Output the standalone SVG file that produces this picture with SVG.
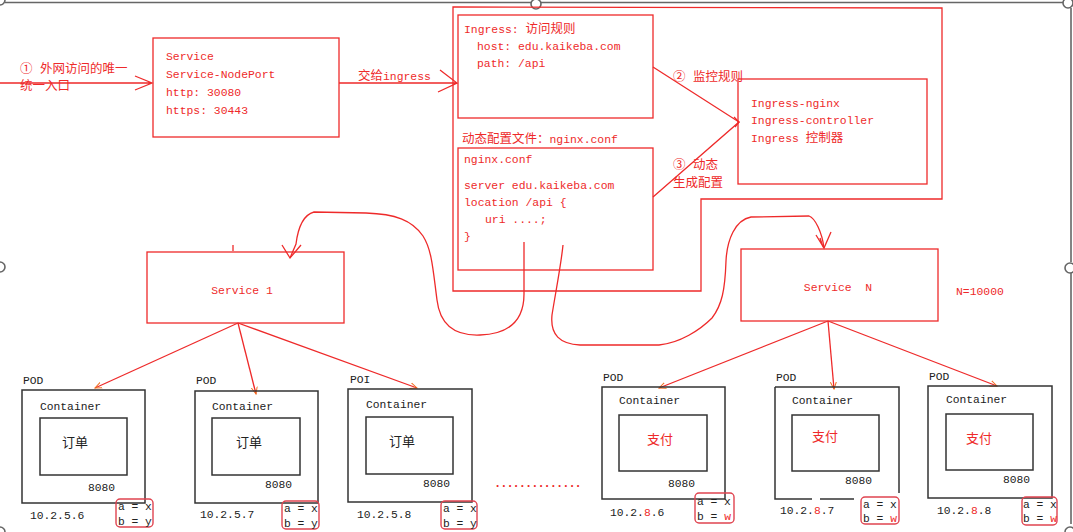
<svg xmlns="http://www.w3.org/2000/svg" width="1073" height="532" viewBox="0 0 1073 532">
<defs>
<style>
.r{fill:none;stroke:#ee2a2a;stroke-width:1.3}
.k{fill:none;stroke:#333;stroke-width:1.5}
.ab{fill:none;stroke:#e04450;stroke-width:1.4}
.t{font-family:"Liberation Mono","Noto Sans CJK SC",monospace;font-size:11.4px;fill:#ee2a2a}
.tk{font-family:"Liberation Mono","Noto Sans CJK SC",monospace;font-size:11.3px;fill:#222}
.c{font-family:"Noto Sans CJK SC",sans-serif;font-size:12.5px}
.cb{font-family:"Noto Sans CJK SC",sans-serif;font-size:13px}
.red{fill:#ee2a2a}
.h{fill:#fff;stroke:#666;stroke-width:1.6}
</style>
<marker id="ah" markerWidth="8" markerHeight="8" refX="7" refY="4" orient="auto" markerUnits="userSpaceOnUse">
<path d="M0,1 L7,4 L0,7" fill="none" stroke="#f07020" stroke-width="1"/>
</marker>
</defs>
<rect width="1073" height="532" fill="#fff"/>

<!-- frame (selection border) -->
<g id="frame">
<path d="M5,2.5 L1066,2.5 M1071,8 L1071,262 M1071,273 L1071,524" fill="none" stroke="#666" stroke-width="1.6"/>
<circle class="h" cx="0" cy="0" r="5"/>
<circle class="h" cx="536" cy="4" r="5"/>
<circle class="h" cx="1068" cy="3" r="5"/>
<circle class="h" cx="0" cy="267" r="5"/>
<circle class="h" cx="1070" cy="268" r="5"/>
<circle class="h" cx="0" cy="532" r="5"/>
<circle class="h" cx="1070" cy="532" r="5"/>
</g>

<g id="connectors">
<!-- external entry -->
<path class="r" d="M0,83 L152,83 M135,76 L152,83 L135,90"/>
<!-- to ingress -->
<path class="r" d="M339,83 L457,83 M440,70 L457,83 L438,92"/>
<!-- monitor / generate -->
<path class="r" d="M653,67 L739,122 L653,197"/>
<path class="r" d="M734,117 L739,122 L735,127"/>
<!-- curve to Service 1 -->
<path class="r" d="M524,242 L524,294 C524,320 510,334 480,335 C455,336 440,325 437,300 C433,270 432,250 423,236 C412,220 395,214 366,213 L314,212 C303,215 298,228 296,244 L290,258"/>
<path class="r" d="M282,245 L290,258 L301,245"/>
<!-- curve to Service N -->
<path class="r" d="M563,245 C561,265 556,290 552,315 C550,335 560,344 580,345 L659,345 C680,343 700,330 712,318 C722,305 725,290 726,261 C727,240 735,220 751,217 L809,216 C815,218 822,232 824,248"/>
<path class="r" d="M816,235 L824,248 L831,232 M820,238 L823,247"/>
<path class="r" d="M233,245 L233,251"/>
<!-- service 1 to pods -->
<path class="r" d="M238,323 L95,388" marker-end="url(#ah)"/>
<path class="r" d="M238,323 L256,394" marker-end="url(#ah)"/>
<path class="r" d="M238,323 L417,388" marker-end="url(#ah)"/>
<!-- service N to pods -->
<path class="r" d="M828,321 L659,388" marker-end="url(#ah)"/>
<path class="r" d="M828,321 L834,389" marker-end="url(#ah)"/>
<path class="r" d="M828,321 L997,386" marker-end="url(#ah)"/>
</g>

<g id="entry-label">
<text class="t" x="20" y="73"><tspan class="c">①</tspan><tspan class="c" x="40">外网访问的唯一</tspan></text>
<text class="t" x="20" y="90"><tspan class="c">统一入口</tspan></text>
</g>

<g id="service-nodeport">
<rect class="r" x="153" y="38" width="186" height="99"/>
<text class="t" x="166" y="60">Service</text>
<text class="t" x="166" y="78">Service-NodePort</text>
<text class="t" x="166" y="96">http: 30080</text>
<text class="t" x="166" y="114">https: 30443</text>
</g>

<g id="to-ingress-label">
<text class="t" x="358" y="80"><tspan class="c">交给</tspan>ingress</text>
</g>

<g id="ingress">
<path class="r" d="M453,7 L942,8 L942,199 L701,199 L701,291 L453,291 Z"/>
<rect class="r" x="458" y="15" width="195" height="103"/>
<text class="t" x="464" y="33">Ingress: <tspan class="c">访问规则</tspan></text>
<text class="t" x="477" y="50">host: edu.kaikeba.com</text>
<text class="t" x="477" y="67">path: /api</text>
<text class="t" x="462" y="143"><tspan class="c">动态配置文件：</tspan>nginx.conf</text>
<rect class="r" x="458" y="148" width="195" height="122"/>
<text class="t" x="464" y="163">nginx.conf</text>
<text class="t" x="464" y="189">server edu.kaikeba.com</text>
<text class="t" x="464" y="206">location /api {</text>
<text class="t" x="485" y="223">uri ....;</text>
<text class="t" x="464" y="240">}</text>
</g>

<g id="controller-labels">
<text class="t" x="673" y="81"><tspan class="c">②</tspan><tspan class="c" x="693">监控规则</tspan></text>
<text class="t" x="673" y="169"><tspan class="c">③</tspan><tspan class="c" x="693">动态</tspan></text>
<text class="t" x="673" y="187"><tspan class="c">生成配置</tspan></text>
</g>

<g id="ingress-controller">
<rect class="r" x="738" y="79" width="189" height="105"/>
<text class="t" x="751" y="107">Ingress-nginx</text>
<text class="t" x="751" y="124">Ingress-controller</text>
<text class="t" x="751" y="142">Ingress <tspan class="c">控制器</tspan></text>
</g>

<g id="service-1">
<rect class="r" x="147" y="252" width="197" height="71"/>
<text class="t" x="242" y="294" text-anchor="middle">Service 1</text>
</g>

<g id="service-n">
<rect class="r" x="741" y="249" width="197" height="72"/>
<text class="t" x="838" y="291" text-anchor="middle" xml:space="preserve">Service  N</text>
<text class="t" x="956" y="295">N=10000</text>
</g>

<g id="pod-1">
<text class="tk" x="23" y="384">POD</text>
<rect class="k" x="22" y="390" width="123" height="113"/>
<text class="tk" x="40" y="410">Container</text>
<rect class="k" x="40" y="418" width="87" height="57"/>
<text class="tk" x="62" y="447"><tspan class="cb">订单</tspan></text>
<text class="tk" x="88" y="491">8080</text>
<text class="tk" x="30" y="519">10.2.5.6</text>
<rect class="ab" x="116" y="499" width="37" height="28" rx="4"/>
<text class="tk" x="118" y="510" xml:space="preserve">a = x</text>
<text class="tk" x="118" y="525" xml:space="preserve">b = y</text>
</g>

<g id="pod-2">
<text class="tk" x="196" y="384">POD</text>
<rect class="k" x="195" y="391" width="123" height="112"/>
<text class="tk" x="212" y="410">Container</text>
<rect class="k" x="212" y="418" width="88" height="57"/>
<text class="tk" x="236" y="447"><tspan class="cb">订单</tspan></text>
<text class="tk" x="265" y="488">8080</text>
<text class="tk" x="200" y="518">10.2.5.7</text>
<rect class="ab" x="282" y="501" width="37" height="28" rx="4"/>
<text class="tk" x="284" y="512" xml:space="preserve">a = x</text>
<text class="tk" x="284" y="527" xml:space="preserve">b = y</text>
</g>

<g id="pod-3">
<text class="tk" x="350" y="383">POI</text>
<rect class="k" x="348" y="389" width="124" height="113"/>
<text class="tk" x="366" y="408">Container</text>
<rect class="k" x="366" y="417" width="87" height="57"/>
<text class="tk" x="389" y="446"><tspan class="cb">订单</tspan></text>
<text class="tk" x="423" y="487">8080</text>
<text class="tk" x="357" y="518">10.2.5.8</text>
<rect class="ab" x="441" y="501" width="36" height="28" rx="4"/>
<text class="tk" x="443" y="512" xml:space="preserve">a = x</text>
<text class="tk" x="443" y="527" xml:space="preserve">b = y</text>
</g>

<g id="ellipsis">
<text class="t" x="494" y="487" style="font-size:12px;font-weight:bold;letter-spacing:-1px">..............</text>
</g>

<g id="pod-4">
<text class="tk" x="603" y="381">POD</text>
<rect class="k" x="602" y="387" width="123" height="112"/>
<text class="tk" x="619" y="404">Container</text>
<rect class="k" x="619" y="415" width="88" height="56"/>
<text class="tk red" x="647" y="444"><tspan class="cb">支付</tspan></text>
<text class="tk" x="668" y="487">8080</text>
<text class="tk" x="610" y="516">10.2.<tspan class="red">8</tspan>.6</text>
<rect class="ab" x="695" y="493" width="39" height="30" rx="4"/>
<text class="tk" x="697" y="505" xml:space="preserve">a = x</text>
<text class="tk" x="697" y="520" xml:space="preserve">b = <tspan class="red">w</tspan></text>
</g>

<g id="pod-5">
<text class="tk" x="776" y="381">POD</text>
<path class="k" d="M775,387 L899,387 L899,493 M854,499 L820,499 M812,499 L775,499 L775,387"/>
<text class="tk" x="792" y="404">Container</text>
<rect class="k" x="792" y="415" width="87" height="56"/>
<text class="tk red" x="812" y="441"><tspan class="cb">支付</tspan></text>
<text class="tk" x="845" y="484">8080</text>
<text class="tk" x="780" y="514">10.2.<tspan class="red">8</tspan>.7</text>
<rect class="ab" x="861" y="497" width="38" height="27" rx="4"/>
<text class="tk" x="863" y="508" xml:space="preserve">a = x</text>
<text class="tk" x="863" y="522" xml:space="preserve">b = <tspan class="red">w</tspan></text>
</g>

<g id="pod-6">
<text class="tk" x="929" y="380">POD</text>
<rect class="k" x="928" y="386" width="124" height="112"/>
<text class="tk" x="946" y="403">Container</text>
<rect class="k" x="946" y="414" width="87" height="56"/>
<text class="tk red" x="966" y="443"><tspan class="cb">支付</tspan></text>
<text class="tk" x="1003" y="483">8080</text>
<text class="tk" x="937" y="514">10.2.<tspan class="red">8</tspan>.8</text>
<rect class="ab" x="1022" y="497" width="35" height="28" rx="4"/>
<text class="tk" x="1023" y="508" xml:space="preserve">a = x</text>
<text class="tk" x="1023" y="522" xml:space="preserve">b = <tspan class="red">w</tspan></text>
</g>
</svg>
